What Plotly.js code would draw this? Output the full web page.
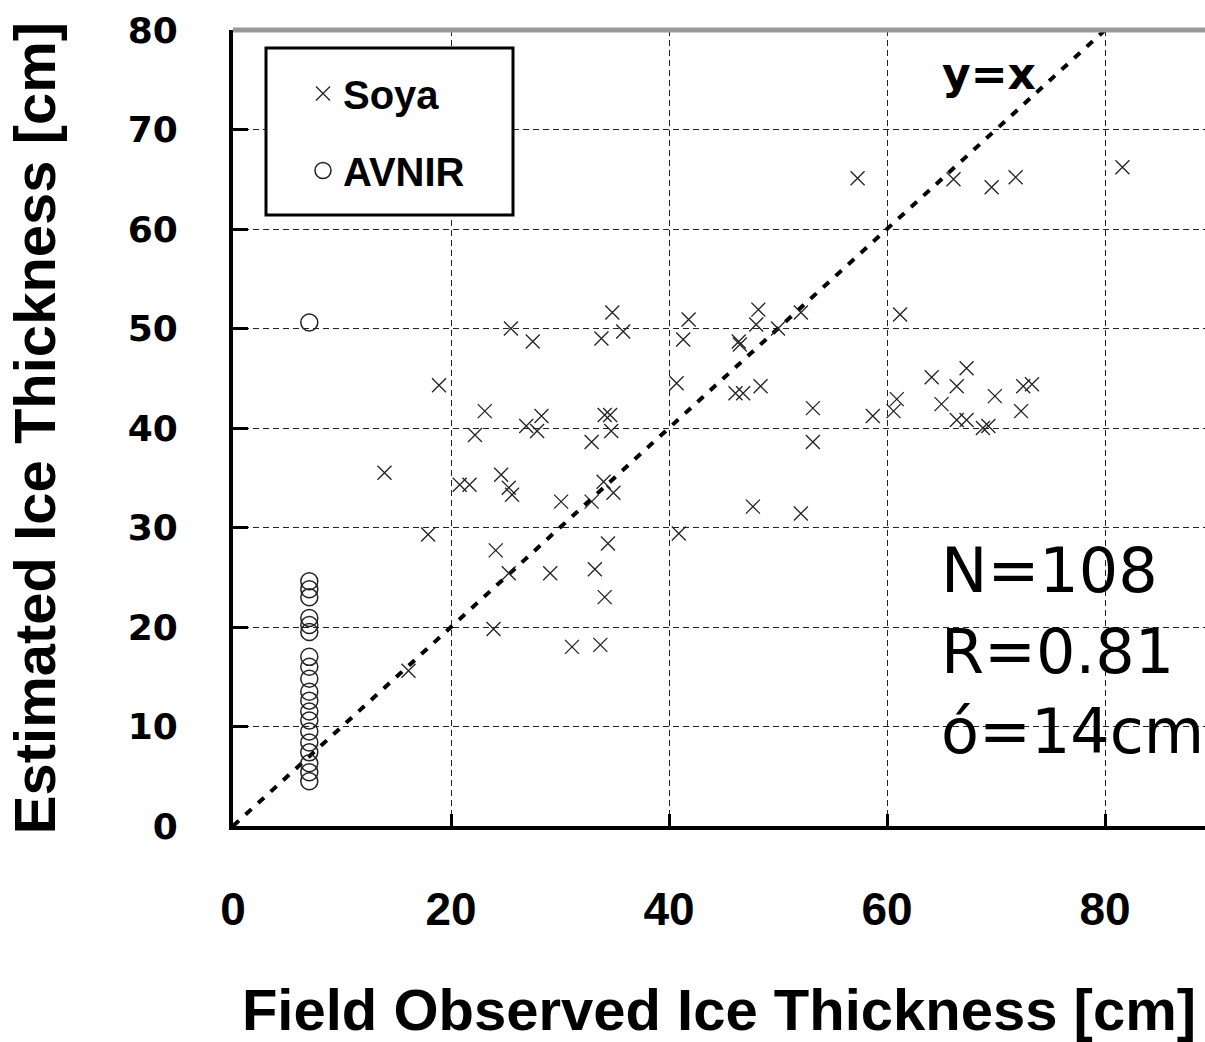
<!DOCTYPE html>
<html>
<head>
<meta charset="utf-8">
<script src="https://cdn.plot.ly/plotly-3.0.1.min.js"></script>
<style>html,body{margin:0;padding:0;background:#fff;}#chart{width:1205px;height:1042px;}</style>
</head>
<body>
<div id="chart"></div>
<script>
// Soya: field observed vs estimated ice thickness (cm)
var soyaX = [13.9,17.9,16.1,18.9,20.8,21.7,22.2,23.1,24.1,23.9,24.6,25.3,25.6,25.3,25.5,26.9,27.5,27.9,28.3,29.1,30.1,31.1,32.9,32.9,33.2,34.0,34.9,33.7,33.8,34.1,34.1,34.6,34.4,34.7,34.8,35.8,40.7,40.9,41.3,41.8,46.1,46.8,46.4,46.5,47.7,48.0,48.2,48.4,50.0,52.1,52.1,53.2,53.2,57.3,58.7,60.6,60.9,61.2,64.1,65.0,66.1,66.4,67.3,66.4,67.3,68.8,69.3,69.6,69.9,71.8,72.3,72.5,73.3,81.6];
var soyaY = [35.5,29.3,15.6,44.3,34.3,34.3,39.3,41.7,27.7,19.8,35.3,34.0,33.3,25.4,50.0,40.2,48.7,39.7,41.2,25.4,32.6,18.0,32.6,38.6,25.8,34.6,33.5,18.2,49.0,23.0,41.3,41.3,28.4,39.7,51.6,49.7,44.5,29.4,48.9,50.9,43.5,43.5,48.7,48.4,32.1,50.4,51.9,44.2,50.0,51.6,31.4,42.0,38.6,65.1,41.2,41.7,42.9,51.4,45.1,42.4,65.0,44.2,46.0,40.8,40.8,40.0,40.2,64.2,43.2,65.2,41.7,44.2,44.4,66.2];
// AVNIR
var avnirX = [7,7,7,7,7,7,7,7,7,7,7,7,7,7,7,7,7,7,7,7];
var avnirY = [50.6,24.6,23.8,23.0,20.9,20.2,19.5,17.0,16.0,14.8,13.5,12.6,11.5,10.6,9.5,8.4,7.4,6.3,5.4,4.5];
// y = x reference line
var lineX = [0, 80];
var lineY = [0, 80];
var xTicks = [0, 20, 40, 60, 80];
var yTicks = [0, 10, 20, 30, 40, 50, 60, 70, 80];
var seriesNames = ["Soya", "AVNIR"];
var statsText = ["N=108", "R=0.81", "ó=14cm"];
var lineLabel = "y=x";
var xTitle = "Field Observed Ice Thickness [cm]";
var yTitle = "Estimated Ice Thickness [cm]";

var boldFont = '"Liberation Sans", Arial, sans-serif';

var traces = [
  {
    x: lineX, y: lineY, mode: 'lines', showlegend: false, hoverinfo: 'skip',
    line: {color: '#000', width: 4, dash: '8px,9px'}
  },
  {
    x: soyaX, y: soyaY, mode: 'markers', name: seriesNames[0], legendgroup: 'a',
    marker: {symbol: 'x-thin', size: 14, color: '#222', line: {width: 1.3, color: '#222'}}
  },
  {
    x: avnirX, y: avnirY, mode: 'markers', name: seriesNames[1], legendgroup: 'b',
    marker: {symbol: 'circle-open', size: 17, color: '#222', line: {width: 1.5, color: '#222'}}
  }
];

var plotW = 1205 - 233, plotH = 826 - 30;
function px(p){ return (p - 233) / plotW; }
function py(p){ return (826 - p) / plotH; }

var layout = {
  width: 1205, height: 1042,
  margin: {l: 233, r: 0, t: 30, b: 216, pad: 0},
  paper_bgcolor: '#fff', plot_bgcolor: '#fff',
  showlegend: true,
  legend: {
    x: px(303), y: py(61), xanchor: 'left', yanchor: 'top',
    bgcolor: 'rgba(0,0,0,0)', borderwidth: 0,
    font: {family: boldFont, size: 40, color: '#000', weight: 'bold'},
    tracegroupgap: 22, itemsizing: 'trace'
  },
  xaxis: {
    range: [0, plotW / 10.9], tickvals: xTicks, ticktext: xTicks.map(String),
    showgrid: true, gridcolor: '#222', gridwidth: 1, griddash: '6px,4px',
    zeroline: false, showline: true, linecolor: '#000', linewidth: 4,
    ticks: 'inside', ticklen: 12, tickwidth: 3, tickcolor: '#000',
    tickfont: {family: boldFont, size: 46, color: '#000', weight: 'bold'},
    ticklabelstandoff: 40,
    title: {text: xTitle, font: {family: boldFont, size: 58, color: '#000', weight: 'bold'}, standoff: 56},
    automargin: false
  },
  yaxis: {
    range: [0, 80], tickvals: yTicks, ticktext: yTicks.map(String),
    showgrid: true, gridcolor: '#222', gridwidth: 1, griddash: '6px,4px',
    zeroline: false, showline: true, linecolor: '#000', linewidth: 4,
    ticks: 'inside', ticklen: 15, tickwidth: 3, tickcolor: '#000',
    tickfont: {family: '"DejaVu Sans", sans-serif', size: 36, color: '#000', weight: 'bold'},
    ticklabelstandoff: 44,
    title: {text: yTitle, font: {family: boldFont, size: 58, color: '#000', weight: 'bold'}, standoff: 54},
    automargin: false
  },
  shapes: [
    {type: 'line', xref: 'paper', yref: 'paper', x0: 0, x1: 1, y0: 1, y1: 1, line: {color: '#999', width: 5}, layer: 'above'},
    {type: 'rect', xref: 'paper', yref: 'paper', x0: px(266), x1: px(513), y0: py(215), y1: py(48),
     line: {color: '#000', width: 3}, fillcolor: '#fff', layer: 'above'}
  ],
  annotations: [
    {x: 69.4, y: 75.6, xref: 'x', yref: 'y', text: lineLabel, showarrow: false,
     font: {family: '"DejaVu Sans", sans-serif', size: 44, color: '#000', weight: 'bold'}},
    {x: 64.8, y: 17.6, xref: 'x', yref: 'y', xanchor: 'left', yanchor: 'middle', align: 'left',
     text: statsText.join('<br>'), showarrow: false,
     font: {family: '"DejaVu Sans", sans-serif', size: 62, color: '#000'}}
  ]
};

Plotly.newPlot('chart', traces, layout, {displayModeBar: false, staticPlot: true});
</script>
</body>
</html>
